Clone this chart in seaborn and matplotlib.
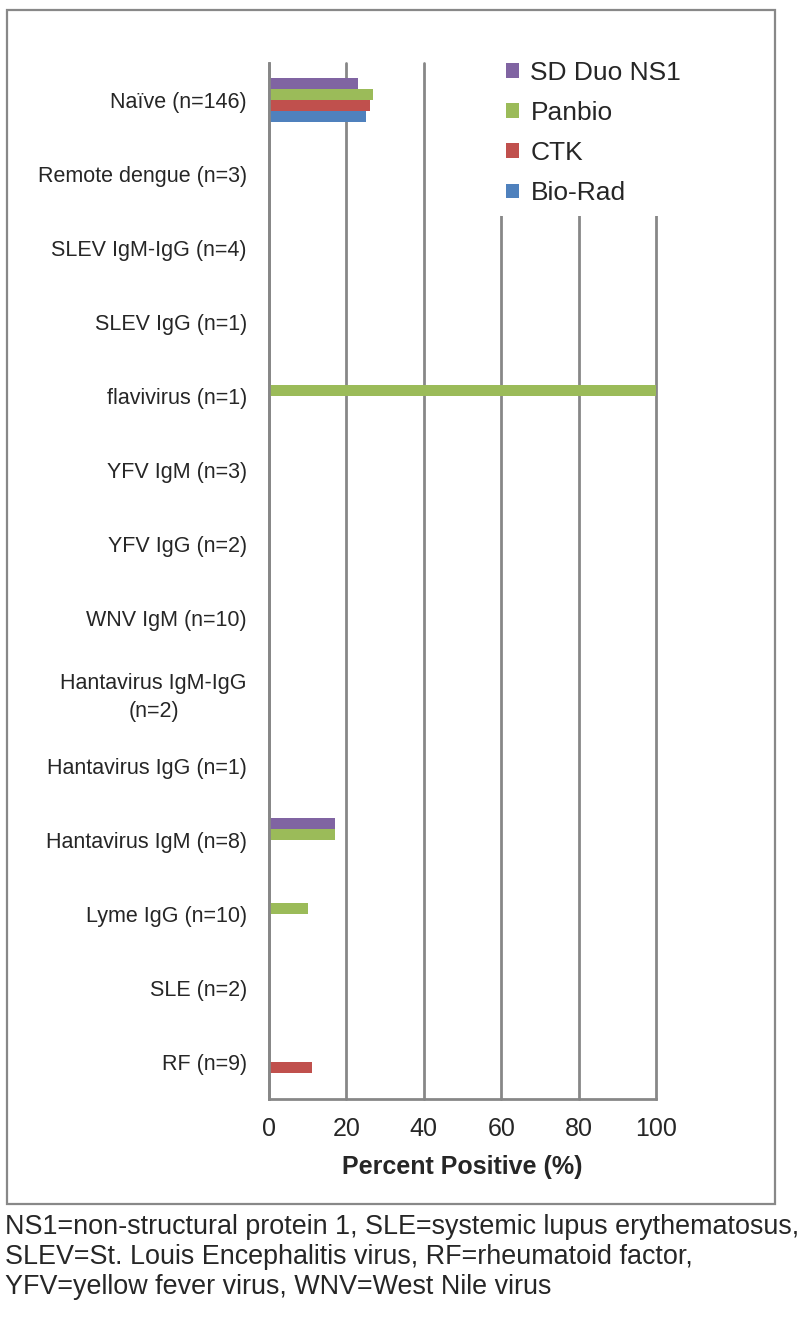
import pandas as pd
import numpy as np
import matplotlib
matplotlib.use("Agg")
import matplotlib.pyplot as plt
import seaborn as sns
from matplotlib.patches import Rectangle

# data
categories = ["Naïve (n=146)", "Remote dengue (n=3)", "SLEV IgM-IgG (n=4)", "SLEV IgG (n=1)",
              "flavivirus (n=1)", "YFV IgM (n=3)", "YFV IgG (n=2)", "WNV IgM (n=10)",
              "Hantavirus IgM-IgG\n(n=2)", "Hantavirus IgG (n=1)", "Hantavirus IgM (n=8)",
              "Lyme IgG (n=10)", "SLE (n=2)", "RF (n=9)"]
tests = ["SD Duo NS1", "Panbio", "CTK", "Bio-Rad"]
sd_duo = [23, 0, 0, 0, 0, 0, 0, 0, 0, 0, 17, 0, 0, 0]
panbio = [27, 0, 0, 0, 100, 0, 0, 0, 0, 0, 17, 10, 0, 0]
ctk = [26, 0, 0, 0, 0, 0, 0, 0, 0, 0, 0, 0, 0, 11]
biorad = [25, 0, 0, 0, 0, 0, 0, 0, 0, 0, 0, 0, 0, 0]
colors = ["#8064A2", "#9BBB59", "#C0504D", "#4F81BD"]
footnote = ("NS1=non-structural protein 1, SLE=systemic lupus erythematosus,\n"
            "SLEV=St. Louis Encephalitis virus, RF=rheumatoid factor,\n"
            "YFV=yellow fever virus, WNV=West Nile virus")

df = pd.DataFrame({"Category": categories * 4,
                   "Test": np.repeat(tests, len(categories)),
                   "Percent": sd_duo + panbio + ctk + biorad})

sns.set_style("white")
plt.rcParams['font.family'] = ['Liberation Sans', 'DejaVu Sans']

grid_col = "#878787"
fig = plt.figure(figsize=(7.99, 13.2), dpi=100)
ax = fig.add_axes([269/799, 1 - 1099/1320, (656-269)/799, (1099-63)/1320])

sns.barplot(data=df, y="Category", x="Percent", hue="Test", hue_order=tests,
            order=categories, palette=colors, width=0.6, errorbar=None,
            saturation=1, linewidth=0, ax=ax)

ax.set_xlim(0, 100)
ax.set_xticks([0, 20, 40, 60, 80, 100])
ax.set_ylim(len(categories) - 0.5, -0.5)
ax.set_axisbelow(True)
ax.grid(axis="x", color=grid_col, linewidth=2)
ax.grid(axis="y", visible=False)
for gl in ax.get_xgridlines():
    gl.set_clip_on(False)
for s in ["top", "right"]:
    ax.spines[s].set_visible(False)
for s in ["left", "bottom"]:
    ax.spines[s].set_color(grid_col)
    ax.spines[s].set_linewidth(2)
ax.tick_params(axis="y", length=0, pad=16, labelsize=15.5)
ax.tick_params(axis="x", length=5, width=2, color=grid_col, pad=8, labelsize=18)
for t in ax.get_yticklabels():
    t.set_multialignment("center")
    if "\n" in t.get_text():
        t.set_linespacing(1.4)
ax.set_ylabel("")
ax.set_xlabel("Percent Positive (%)", fontsize=18, fontweight="bold", labelpad=10)

handles, labels = ax.get_legend_handles_labels()
ax.legend(handles, labels, loc="upper left", bbox_to_anchor=(0.552, 1.025),
          fontsize=19, frameon=True, facecolor="white", edgecolor="none", framealpha=1,
          handlelength=0.46, handleheight=0.46, handletextpad=0.45, labelspacing=0.61,
          borderpad=0.4)

# outer frame
fig.patches.append(Rectangle((7/799, 1 - 1204/1320), (775-7)/799, (1204-10)/1320,
                             transform=fig.transFigure, fill=False,
                             edgecolor="#888888", linewidth=1.6))

fig.text(5/799, 1 - 1214/1320, footnote, ha="left", va="top", fontsize=19.4,
         linespacing=1.2)

fig.savefig("out.png", dpi=100)
